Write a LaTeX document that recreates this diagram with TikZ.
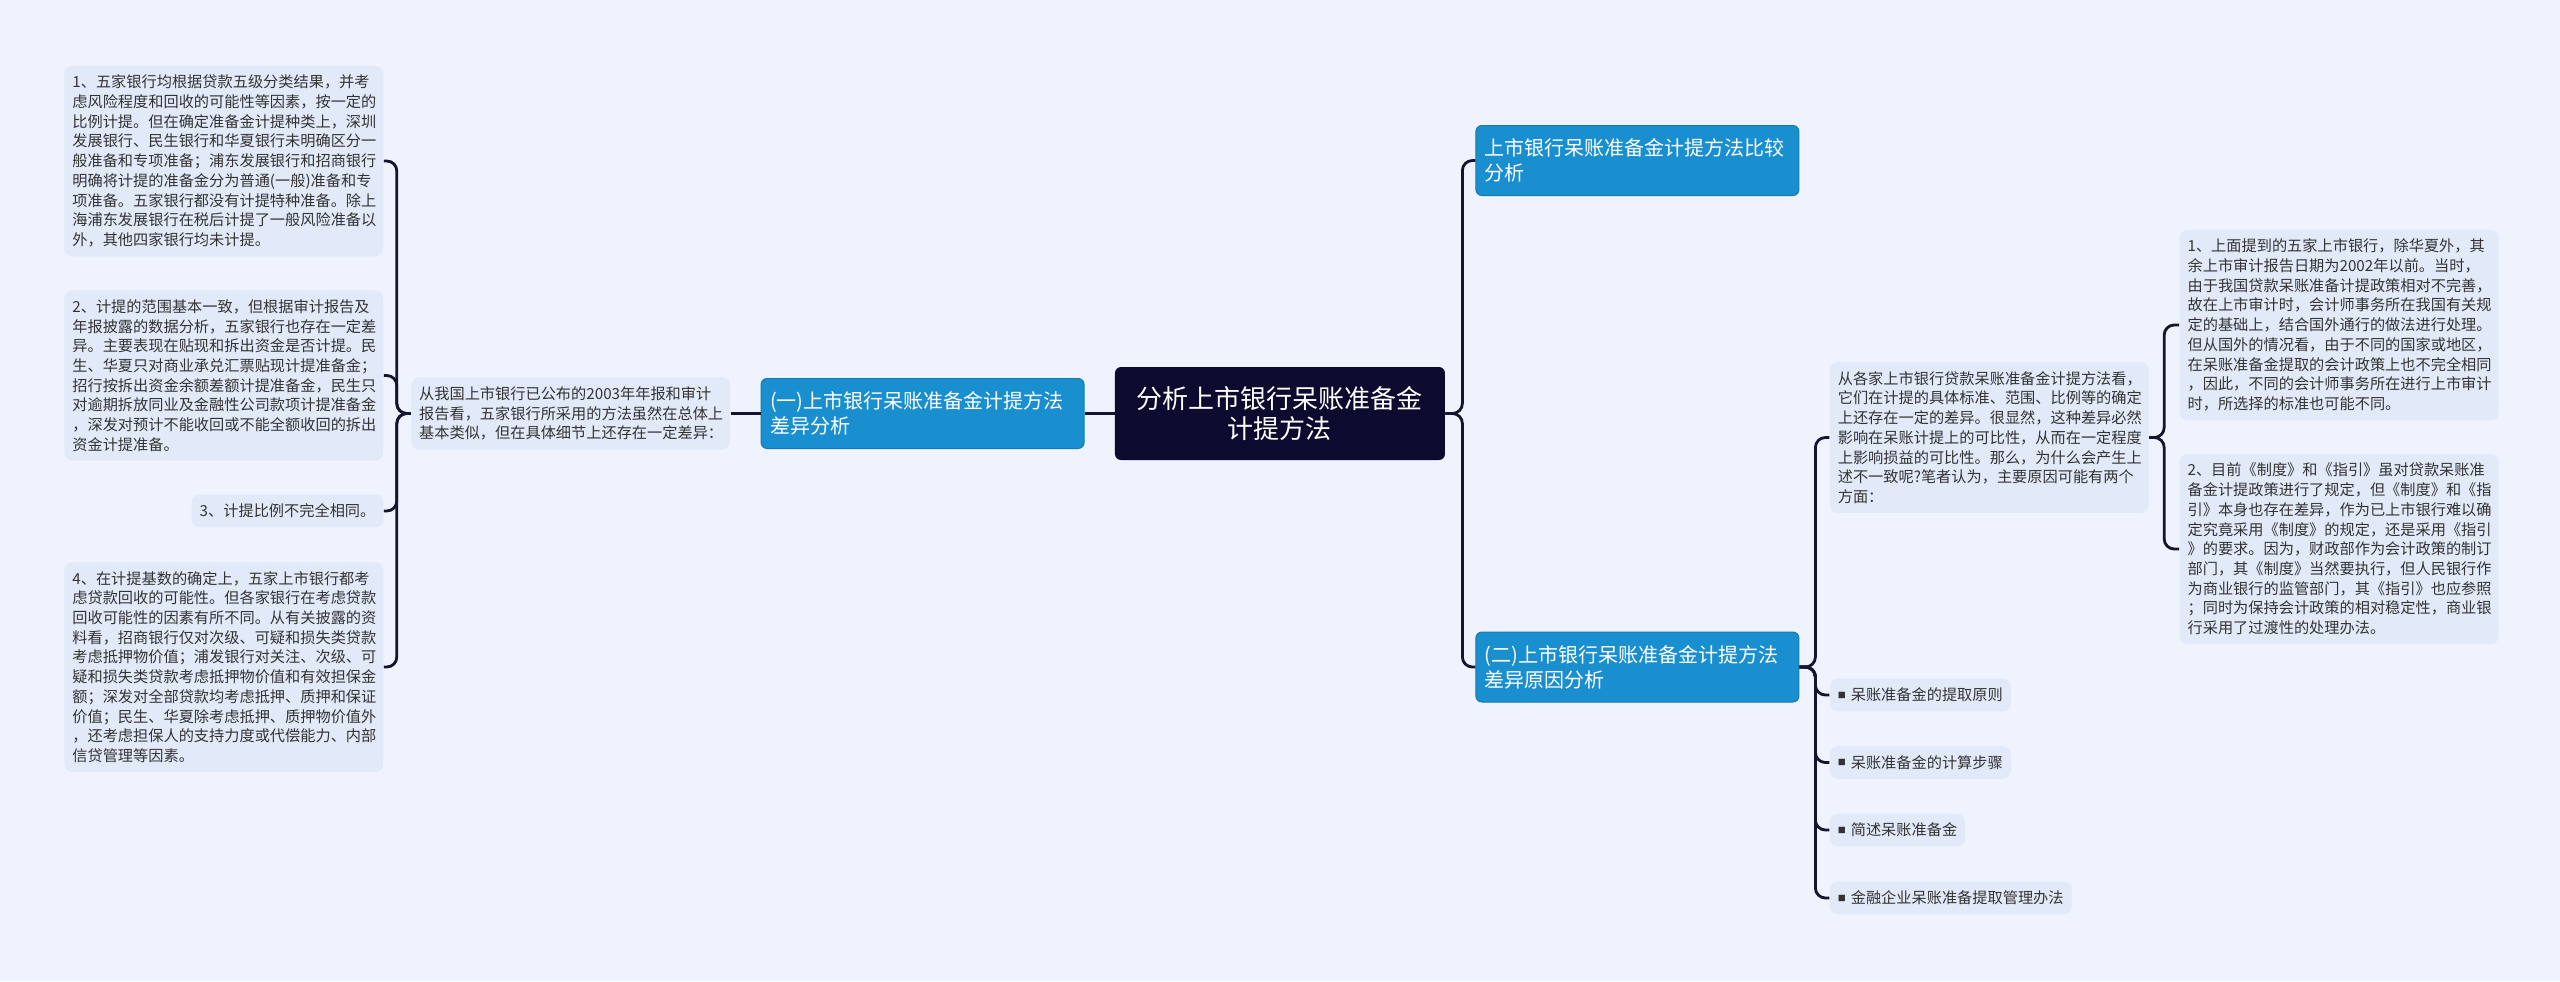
\documentclass[tikz,border=0pt]{standalone}
\usepackage{fontspec}
\setmainfont{Noto Sans CJK SC}
\usetikzlibrary{positioning}
\definecolor{bgcol}{HTML}{EEF3FD}
\definecolor{notecol}{HTML}{E2EAF9}
\definecolor{topiccol}{HTML}{1A8FD0}
\definecolor{centralcol}{HTML}{0C0A2E}
\definecolor{linecol}{HTML}{16152E}
\definecolor{txtcol}{HTML}{333333}
\newcommand{\sqmark}{\raisebox{1.2pt}{\fontsize{4pt}{4pt}\selectfont ■}\hspace{2.5pt}}

\begin{document}
\begin{tikzpicture}[
  node distance=15pt,
  tag/.style={fill=notecol, rounded corners=4pt, align=left, text=txtcol, inner xsep=4pt, inner ysep=4.6pt, font=\fontsize{7.6pt}{9.85pt}\selectfont},
  note/.style={tag, text width=151.5pt},
  topic/.style={fill=topiccol, draw=topiccol!85!black, line width=0.5pt, rounded corners=3pt, align=left, text=white, text width=152.5pt, inner xsep=4.5pt, minimum height=35pt, font=\fontsize{10pt}{12.5pt}\selectfont},
  central/.style={fill=centralcol, rounded corners=3pt, align=center, text=white, text width=155pt, inner xsep=5pt, minimum height=46.5pt, font=\fontsize{13pt}{15pt}\selectfont},
  link/.style={draw=linecol, line width=1.4pt, rounded corners=5pt}]
\fill[bgcol] (-640pt,206.75pt) rectangle (640pt,-283.75pt);
\node[central] (root) at (0,0) {分析上市银行呆账准备金\\计提方法};
% left side
\node[topic, left=of root] (sub1) {(一)上市银行呆账准备金计提方法\\差异分析};
\node[note, left=of sub1] (intro1) {从我国上市银行已公布的2003年年报和审计\\报告看，五家银行所采用的方法虽然在总体上\\基本类似，但在具体细节上还存在一定差异：};
\node[note, left=13.5pt of intro1, yshift=126.25pt] (l1) {1、五家银行均根据贷款五级分类结果，并考\\虑风险程度和回收的可能性等因素，按一定的\\比例计提。但在确定准备金计提种类上，深圳\\发展银行、民生银行和华夏银行未明确区分一\\般准备和专项准备；浦东发展银行和招商银行\\明确将计提的准备金分为普通(一般)准备和专\\项准备。五家银行都没有计提特种准备。除上\\海浦东发展银行在税后计提了一般风险准备以\\外，其他四家银行均未计提。};
\node[note, left=13.5pt of intro1, yshift=19pt] (l2) {2、计提的范围基本一致，但根据审计报告及\\年报披露的数据分析，五家银行也存在一定差\\异。主要表现在贴现和拆出资金是否计提。民\\生、华夏只对商业承兑汇票贴现计提准备金；\\招行按拆出资金余额差额计提准备金，民生只\\对逾期拆放同业及金融性公司款项计提准备金\\，深发对预计不能收回或不能全额收回的拆出\\资金计提准备。};
\node[tag, left=13.5pt of intro1, yshift=-48.75pt] (l3) {3、计提比例不完全相同。};
\node[note, left=13.5pt of intro1, yshift=-126.75pt] (l4) {4、在计提基数的确定上，五家上市银行都考\\虑贷款回收的可能性。但各家银行在考虑贷款\\回收可能性的因素有所不同。从有关披露的资\\料看，招商银行仅对次级、可疑和损失类贷款\\考虑抵押物价值；浦发银行对关注、次级、可\\疑和损失类贷款考虑抵押物价值和有效担保金\\额；深发对全部贷款均考虑抵押、质押和保证\\价值；民生、华夏除考虑抵押、质押物价值外\\，还考虑担保人的支持力度或代偿能力、内部\\信贷管理等因素。};
% right side
\node[topic, right=of root, yshift=126.5pt] (top) {上市银行呆账准备金计提方法比较\\分析};
\node[topic, right=of root, yshift=-126.75pt] (sub2) {(二)上市银行呆账准备金计提方法\\差异原因分析};
\node[note, right=of sub2, yshift=114.75pt] (intro2) {从各家上市银行贷款呆账准备金计提方法看，\\它们在计提的具体标准、范围、比例等的确定\\上还存在一定的差异。很显然，这种差异必然\\影响在呆账计提上的可比性，从而在一定程度\\上影响损益的可比性。那么，为什么会产生上\\述不一致呢?笔者认为，主要原因可能有两个\\方面：};
\node[tag, right=of sub2, yshift=-14pt] (i1) {\sqmark 呆账准备金的提取原则};
\node[tag, right=of sub2, yshift=-47.75pt] (i2) {\sqmark 呆账准备金的计算步骤};
\node[tag, right=of sub2, yshift=-81.5pt] (i3) {\sqmark 简述呆账准备金};
\node[tag, right=of sub2, yshift=-115.5pt] (i4) {\sqmark 金融企业呆账准备提取管理办法};
\node[note, right=of intro2, yshift=56.25pt] (r1) {1、上面提到的五家上市银行，除华夏外，其\\余上市审计报告日期为2002年以前。当时，\\由于我国贷款呆账准备计提政策相对不完善，\\故在上市审计时，会计师事务所在我国有关规\\定的基础上，结合国外通行的做法进行处理。\\但从国外的情况看，由于不同的国家或地区，\\在呆账准备金提取的会计政策上也不完全相同\\，因此，不同的会计师事务所在进行上市审计\\时，所选择的标准也可能不同。};
\node[note, right=of intro2, yshift=-55.75pt] (r2) {2、目前《制度》和《指引》虽对贷款呆账准\\备金计提政策进行了规定，但《制度》和《指\\引》本身也存在差异，作为已上市银行难以确\\定究竟采用《制度》的规定，还是采用《指引\\》的要求。因为，财政部作为会计政策的制订\\部门，其《制度》当然要执行，但人民银行作\\为商业银行的监管部门，其《指引》也应参照\\；同时为保持会计政策的相对稳定性，商业银\\行采用了过渡性的处理办法。};
% connectors
\draw[link] (root.west) -- (sub1.east);
\draw[link] (sub1.west) -- (intro1.east);
\draw[link] (intro1.west) -- ++(-7pt,0) |- (l1.east);
\draw[link] (intro1.west) -- ++(-7pt,0) |- (l2.east);
\draw[link] (intro1.west) -- ++(-7pt,0) |- (l3.east);
\draw[link] (intro1.west) -- ++(-7pt,0) |- (l4.east);
\draw[link] (root.east) -- ++(8.5pt,0) |- (top.west);
\draw[link] (root.east) -- ++(8.5pt,0) |- (sub2.west);
\draw[link] (sub2.east) -- ++(8pt,0) |- (intro2.west);
\draw[link] (sub2.east) -- ++(8pt,0) |- (i1.west);
\draw[link] (sub2.east) -- ++(8pt,0) |- (i2.west);
\draw[link] (sub2.east) -- ++(8pt,0) |- (i3.west);
\draw[link] (sub2.east) -- ++(8pt,0) |- (i4.west);
\draw[link] (intro2.east) -- ++(7.5pt,0) |- (r1.west);
\draw[link] (intro2.east) -- ++(7.5pt,0) |- (r2.west);
\end{tikzpicture}
\end{document}
